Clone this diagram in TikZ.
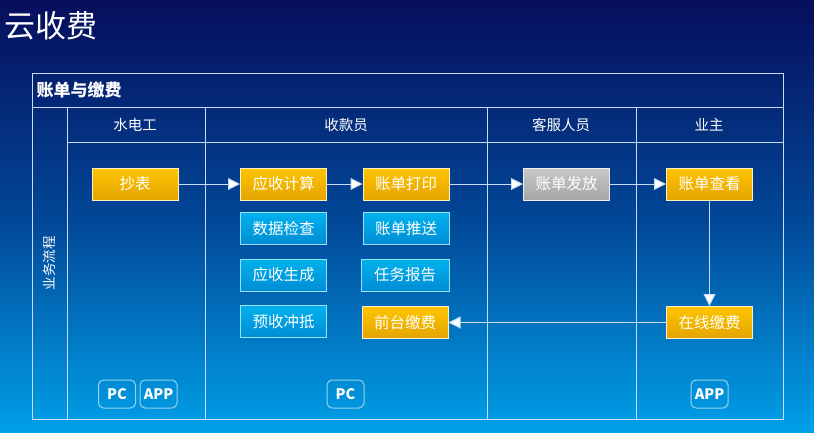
\documentclass[tikz,border=0pt]{standalone}
\usepackage{fontspec}
\setmainfont{Noto Sans CJK SC}
\newfontfamily\cjk{Noto Sans CJK SC}
\usetikzlibrary{arrows.meta,shadings}
\definecolor{bgtop}{RGB}{6,14,92}
\definecolor{bgmid}{RGB}{2,70,150}
\definecolor{bgbot}{RGB}{0,160,232}
\definecolor{ortop}{RGB}{255,196,0}
\definecolor{orbot}{RGB}{228,164,0}
\definecolor{bltop}{RGB}{0,178,238}
\definecolor{blbot}{RGB}{0,140,212}
\definecolor{grtop}{RGB}{200,200,200}
\definecolor{grbot}{RGB}{166,166,166}
\definecolor{gridc}{RGB}{200,220,245}
\tikzset{
  basebox/.style={rectangle, minimum width=86pt, minimum height=32pt, inner sep=0pt,
    text=white, font=\cjk\fontsize{15.5}{17}\selectfont, line width=1pt},
  obox/.style={basebox, top color=ortop, bottom color=orbot, draw=white!75!ortop},
  bbox/.style={basebox, top color=bltop, bottom color=blbot, draw=white!60!bltop},
  gbox/.style={basebox, top color=grtop, bottom color=grbot, draw=white!70!grtop},
  tag/.style={rectangle, rounded corners=5pt, draw=white!60!blbot, line width=1pt,
    minimum width=37pt, minimum height=28pt, inner sep=0pt, text=white,
    font=\cjk\bfseries\fontsize{14.5}{16}\selectfont},
  grid/.style={draw=gridc, line width=1pt},
  flow/.style={draw=gridc, line width=1pt, -{Triangle[length=12pt,width=12pt,fill=white]}},
  lane/.style={text=white, font=\cjk\fontsize{14.5}{16}\selectfont}
}
\begin{document}
\begin{tikzpicture}[x=1pt,y=-1pt]
\useasboundingbox (0,0) rectangle (814,432);
\shade[top color=bgtop, bottom color=bgbot, middle color=bgmid] (0,0) rectangle (814,432);
\node[anchor=west, text=white, font=\cjk\fontsize{31}{34}\selectfont] (title) at (1,26) {云收费};
% frame
\draw[grid] (32,73) rectangle (783,419);
\draw[grid] (32,107) -- (783,107);
\draw[grid] (67,142) -- (783,142);
\draw[grid] (67,107) -- (67,419);
\draw[grid] (205,107) -- (205,419);
\draw[grid] (487,107) -- (487,419);
\draw[grid] (636,107) -- (636,419);
\node[anchor=west, text=white, font=\cjk\bfseries\fontsize{17}{19}\selectfont] (hdr) at (33,90) {账单与缴费};
\node[lane, font=\cjk\fontsize{13.5}{15}\selectfont, rotate=90] (side) at (49,263) {业务流程};
\node[lane] (l1) at (135,125) {水电工};
\node[lane] (l2) at (346,125) {收款员};
\node[lane] (l3) at (561,125) {客服人员};
\node[lane] (l4) at (709,125) {业主};
% boxes
\node[obox] (cb) at (135,184) {抄表};
\node[obox] (ysjs) at (283.5,184) {应收计算};
\node[obox] (zddy) at (406,184) {账单打印};
\node[bbox] (sjjc) at (283.5,228.5) {数据检查};
\node[bbox] (zdts) at (406,228.5) {账单推送};
\node[bbox] (yssc) at (283.5,275) {应收生成};
\node[bbox, minimum width=88pt] (rwbg) at (405,275) {任务报告};
\node[bbox] (ysct) at (283.5,321.5) {预收冲抵};
\node[obox] (qtjf) at (405,322.5) {前台缴费};
\node[gbox] (zdff) at (566.5,184) {账单发放};
\node[obox] (zdck) at (709.5,184) {账单查看};
\node[obox] (zxjf) at (709.5,322.5) {在线缴费};
% arrows
\draw[flow] (cb) -- (ysjs);
\draw[flow] (ysjs) -- (zddy);
\draw[flow] (zddy) -- (zdff);
\draw[flow] (zdff) -- (zdck);
\draw[flow] (zdck) -- (zxjf);
\draw[flow] (zxjf) -- (qtjf);
% tags
\node[tag] (pc1) at (117,394) {PC};
\node[tag] (app1) at (158.5,394) {APP};
\node[tag] (pc2) at (345.5,394) {PC};
\node[tag] (app2) at (709.5,394) {APP};
\end{tikzpicture}
\end{document}
